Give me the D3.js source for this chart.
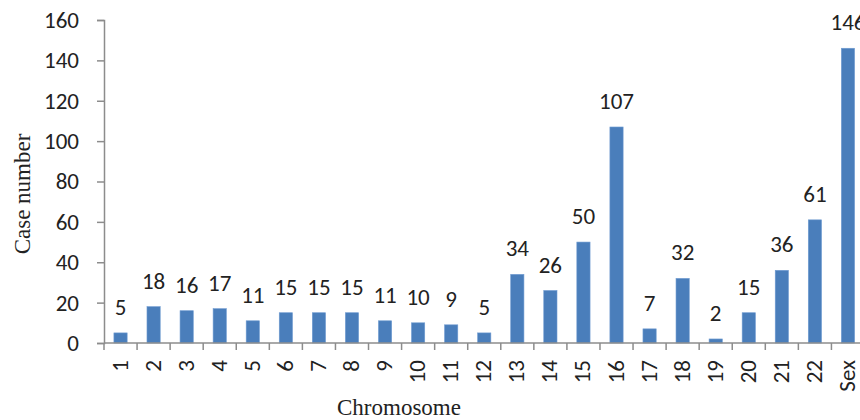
<!DOCTYPE html>
<html><head><meta charset="utf-8">
<script src="https://cdn.jsdelivr.net/npm/d3@7"></script>
<style>body{margin:0;background:#fff;}svg{display:block;}</style>
</head><body>
<script>
const categories = ["1","2","3","4","5","6","7","8","9","10","11","12","13","14","15","16","17","18","19","20","21","22","Sex"];
const values = [5,18,16,17,11,15,15,15,11,10,9,5,34,26,50,107,7,32,2,15,36,61,146];
const yTicks = [0,20,40,60,80,100,120,140,160];

const W = 860, H = 420;
const svg = d3.select("body").append("svg").attr("width", W).attr("height", H);
const mLeft = 104, mRight = 864.5, mTop = 20, mBottom = 343;

const xb = d3.scaleBand().domain(categories).range([mLeft, mRight]);
const y = d3.scaleLinear().domain([0,160]).range([mBottom, mTop]);

const axisColor = "#8c8c8c";
const sans = "Carlito, 'Open Sans', 'Noto Sans', sans-serif";
const serif = "'Liberation Serif', 'Times New Roman', serif";
const fs = 23;

// y axis
const ya = svg.append("g").attr("transform", `translate(${mLeft},0)`)
  .call(d3.axisLeft(y).tickValues(yTicks).tickSize(7).tickPadding(18));
ya.select(".domain").attr("stroke", axisColor).attr("stroke-width", 1.5);
ya.selectAll(".tick line").attr("stroke", axisColor).attr("stroke-width", 1.5);
ya.selectAll(".tick text").attr("font-family", sans).attr("font-size", fs).attr("fill", "#222");

// bars
svg.selectAll("rect.bar").data(values).enter().append("rect")
  .attr("class","bar")
  .attr("x", (d,i) => xb(categories[i]) + xb.bandwidth()*0.3)
  .attr("width", xb.bandwidth()*0.4)
  .attr("y", d => y(d))
  .attr("height", d => mBottom - y(d))
  .attr("fill", "#4A7EBB")
  .attr("stroke", "#6f9bd1").attr("stroke-width", 0.6);

// value labels
svg.selectAll("text.val").data(values).enter().append("text")
  .attr("class","val")
  .attr("x", (d,i) => xb(categories[i]) + xb.bandwidth()/2)
  .attr("y", d => y(d) - 18)
  .attr("text-anchor","middle")
  .attr("font-family", sans).attr("font-size", fs).attr("fill", "#222")
  .text(d => d);

// x axis line
svg.append("line").attr("x1", mLeft).attr("x2", W).attr("y1", mBottom).attr("y2", mBottom)
  .attr("stroke", axisColor).attr("stroke-width", 1.5);
// category boundary ticks
const bounds = categories.map(c => xb(c)).concat([mRight]);
svg.selectAll("line.xt").data(bounds).enter().append("line")
  .attr("class","xt")
  .attr("x1", d => d).attr("x2", d => d)
  .attr("y1", mBottom).attr("y2", mBottom + 7)
  .attr("stroke", axisColor).attr("stroke-width", 1.5);

// x tick labels rotated
svg.selectAll("text.xl").data(categories).enter().append("text")
  .attr("class","xl")
  .attr("transform", d => `translate(${xb(d) + xb.bandwidth()/2 + 7},${mBottom + 17}) rotate(-90)`)
  .attr("text-anchor","end")
  .attr("font-family", sans).attr("font-size", fs).attr("fill", "#222")
  .text(d => d);

// axis titles
svg.append("text")
  .attr("transform", `translate(30,194) rotate(-90)`)
  .attr("text-anchor","middle")
  .attr("font-family", serif)
  .attr("font-size", 23).attr("fill", "#222")
  .text("Case number");
svg.append("text")
  .attr("x", 399).attr("y", 415)
  .attr("text-anchor","middle")
  .attr("font-family", serif)
  .attr("font-size", 23).attr("fill", "#222")
  .text("Chromosome");
</script>
</body></html>
